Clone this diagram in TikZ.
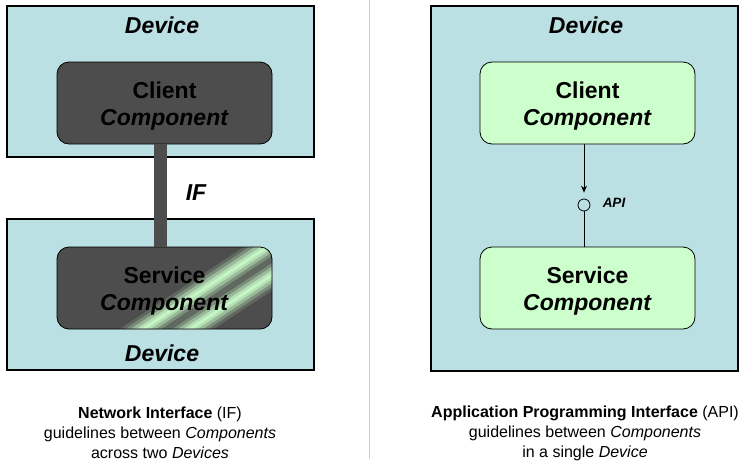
\documentclass[tikz,border=0pt]{standalone}
\usepackage{fontspec}
\setmainfont{Liberation Sans}
\usetikzlibrary{arrows.meta}

\definecolor{devfill}{HTML}{BBE0E3}
\definecolor{compdark}{HTML}{4D4D4D}
\definecolor{compgreen}{HTML}{CCFFCC}
\definecolor{stripegreen}{HTML}{CCFFCC}
\definecolor{sepline}{HTML}{D4D494}

\tikzset{
  device/.style={draw=black, line width=2pt, fill=devfill, minimum width=307pt, inner sep=0pt},
  comp/.style={draw=black, line width=0.8pt, rounded corners=12pt, minimum width=215pt,
    minimum height=82pt, align=center, font=\fontsize{23}{27}\selectfont\bfseries,
    text height=50pt, text depth=5pt},
  devlabel/.style={font=\fontsize{23}{27}\selectfont\bfseries\itshape},
  caption/.style={align=center, font=\fontsize{16}{20}\selectfont}
}

\begin{document}
\begin{tikzpicture}[x=1pt,y=-1pt]
\useasboundingbox (0,0) rectangle (740,464);

\draw[sepline, line width=1pt] (369,0) -- (369,459);

% left: two devices
\node[device, minimum height=151pt] (devA) at (160.5,81.5) {};
\node[device, minimum height=151pt] (devB) at (160.5,294.5) {};
\node[devlabel] (devAlabel) at (162,25) {Device};
\node[devlabel] (devBlabel) at (162,353) {Device};

\node[comp, fill=compdark] (clientA) at (164.5,103) {Client\\\textit{Component}};
\node[comp, fill=compdark, path picture={
    \foreach \w/\o in {26/0.15,20/0.25,14/0.4,8/0.55,3/0.7} {
      \draw[stripegreen, line width=\w pt, opacity=\o]
        ([shift={(-51.5pt,-61pt)}]path picture bounding box.center) -- ++(180pt,119pt);
      \draw[stripegreen, line width=\w pt, opacity=\o]
        ([shift={(-4.5pt,-61pt)}]path picture bounding box.center) -- ++(180pt,119pt);
    }
  }] (serviceA) at (164.5,288) {Service\\\textit{Component}};

\draw[compdark, line width=13pt] ([xshift=-4pt]clientA.south) -- ([xshift=-4pt]serviceA.north);
\node[devlabel] (iflabel) at (196,193) {IF};

% right: one device
\node[device, minimum height=365pt] (devC) at (584.5,188.5) {};
\node[devlabel] (devClabel) at (586,25) {Device};

\node[comp, fill=compgreen] (clientB) at (587.5,103) {Client\\\textit{Component}};
\node[comp, fill=compgreen] (serviceB) at (587.5,288) {Service\\\textit{Component}};

\node[draw=black, line width=0.8pt, circle, minimum size=12pt, inner sep=0pt] (api) at (584,205) {};
\draw[-{Stealth[length=7pt,width=6pt]}, line width=0.8pt, shorten >=6pt] (api |- clientB.south) -- (api.north);
\draw[line width=0.8pt] (api.south) -- (api |- serviceB.north);
\node[font=\fontsize{13.5}{16}\selectfont\bfseries\itshape] (apilabel) at (614,203) {API};

% captions
\node[caption] (capA) at (160,433) {\textbf{Network Interface} (IF)\\guidelines between \textit{Components}\\across two \textit{Devices}};
\node[caption] (capB) at (585,433) {\textbf{Application Programming Interface} (API)\\guidelines between \textit{Components}\\in a single \textit{Device}};

\end{tikzpicture}
\end{document}
